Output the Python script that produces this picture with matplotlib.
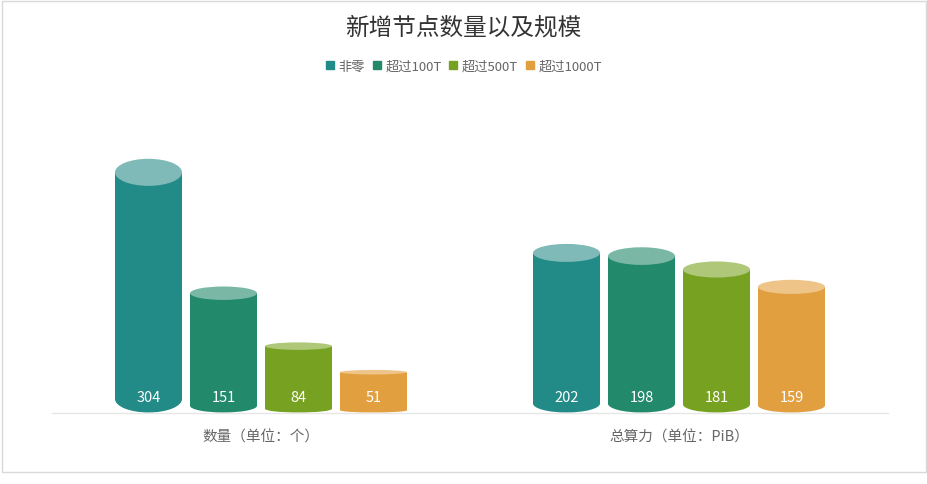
import matplotlib.pyplot as plt
import numpy as np
from matplotlib.patches import Ellipse, Rectangle
from matplotlib.lines import Line2D

plt.rcParams['font.family'] = ['Noto Sans CJK SC', 'DejaVu Sans']

categories = ['数量（单位：个）', '总算力（单位：PiB）']
series_names = ['非零', '超过100T', '超过500T', '超过1000T']
values = [
    [304, 202],   # 非零
    [151, 198],   # 超过100T
    [84, 181],    # 超过500T
    [51, 159],    # 超过1000T
]
side_colors = ['#228b87', '#22896b', '#77a120', '#e19f40']
top_colors = ['#7fbab8', '#7ab8a5', '#aec778', '#eec489']

W, H = 927, 485
fig = plt.figure(figsize=(W / 100, H / 100), dpi=100)

# plot area in pixels
x0, x1 = 52, 888
base_y = 413.5
px_per_unit = 0.79
ymax = 400
ax = fig.add_axes([x0 / W, (H - base_y) / H, (x1 - x0) / W, ymax * px_per_unit / H])
ax.set_xlim(-0.5, 1.5)
ax.set_ylim(0, ymax)

cat_px = (x1 - x0) / 2.0
bar_w = 67 / cat_px
step = 75 / cat_px
e_ratio = 0.1127  # ellipse height (data units) per unit of value

for i, name in enumerate(series_names):
    for j, v in enumerate(values[i]):
        cx = j + (i - 1.5) * step
        e = e_ratio * v
        # bottom half ellipse
        ax.add_patch(Ellipse((cx, e / 2), bar_w, e, facecolor=side_colors[i],
                             edgecolor='none', zorder=2))
        ax.add_patch(Rectangle((cx - bar_w / 2, e / 2), bar_w, v - e / 2,
                               facecolor=side_colors[i], edgecolor='none', zorder=3))
        ax.add_patch(Ellipse((cx, v), bar_w, e, facecolor=top_colors[i],
                             edgecolor='none', zorder=4))
        ax.annotate(str(v), (cx, 0), xytext=(0, 10.8), textcoords='offset points',
                    ha='center', va='center', color='white', fontsize=10.5, zorder=5)

for s in ['top', 'left', 'right']:
    ax.spines[s].set_visible(False)
ax.spines['bottom'].set_color('#e6e6e6')
ax.spines['bottom'].set_linewidth(1)
ax.set_yticks([])
ax.set_xticks([0, 1])
ax.set_xticklabels(categories, color='#666666', fontsize=10.5)
ax.tick_params(axis='x', length=0, pad=12)

fig.text(463 / W, 1 - 28 / H, '新增节点数量以及规模', ha='center', va='center',
         fontsize=17, color='#333333')

handles = [Line2D([], [], marker='s', linestyle='none', markersize=6,
                  markerfacecolor=c, markeredgecolor=c) for c in side_colors]
fig.legend(handles, series_names, loc='center', bbox_to_anchor=(464 / W, 1 - 67.5 / H),
           ncol=4, frameon=False, fontsize=9.5, labelcolor='#666666',
           handlelength=0.6, handletextpad=0.35, columnspacing=0.6)

fig.patches.append(Rectangle((1.5 / W, 1 - 473 / H), 924 / W, 471.5 / H,
                             transform=fig.transFigure, fill=False,
                             edgecolor='#d9d9d9', linewidth=1))

fig.savefig('out.png', dpi=100, facecolor='white')
